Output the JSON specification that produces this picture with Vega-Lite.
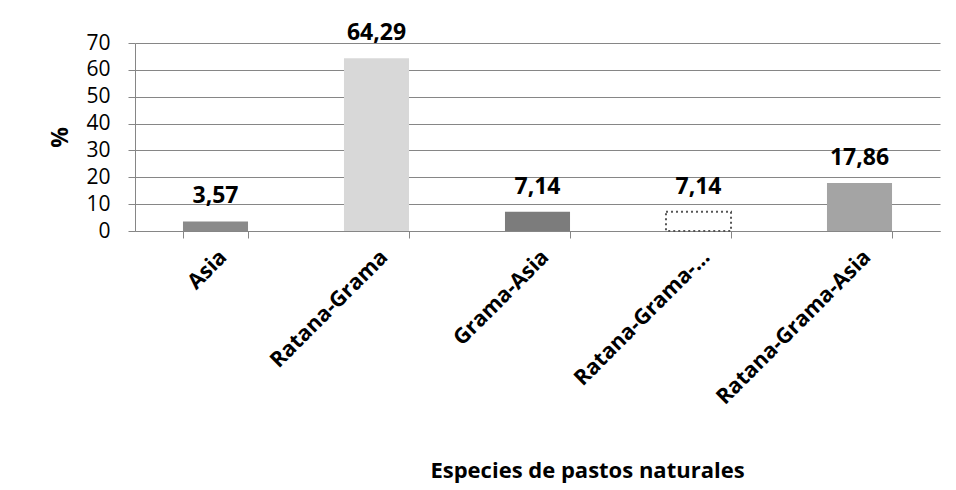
{
  "$schema": "https://vega.github.io/schema/vega-lite/v6.json",
  "width": 805,
  "height": 188,
  "autosize": {"type": "none"},
  "padding": {"left": 135, "top": 43, "right": 16, "bottom": 259},
  "background": "white",
  "config": {
    "locale": {"number": {"decimal": ",", "thousands": ".", "grouping": [3], "currency": ["", " €"]}},
    "view": {"stroke": null},
    "font": "Open Sans"
  },
  "data": {
    "values": [
      {"especie": "Asia", "pct": 3.57},
      {"especie": "Ratana-Grama", "pct": 64.29},
      {"especie": "Grama-Asia", "pct": 7.14},
      {"especie": "Ratana-Grama-…", "pct": 7.14},
      {"especie": "Ratana-Grama-Asia", "pct": 17.86}
    ]
  },
  "encoding": {
    "x": {
      "field": "especie",
      "type": "nominal",
      "sort": null,
      "scale": {"paddingInner": 0.596, "paddingOuter": 0.298},
      "axis": {
        "title": "Especies de pastos naturales",
        "labelAngle": -45,
        "labelFontSize": 21.5,
        "labelFontWeight": "bold",
        "labelColor": "black",
        "labelLimit": 0,
        "labelPadding": 8,
        "tickBand": "extent",
        "tickSize": 7,
        "tickColor": "#868686",
        "domainColor": "#868686",
        "grid": false,
        "titleFontSize": 22,
        "titleFontWeight": "bold",
        "titleColor": "black",
        "titleX": 452,
        "titleY": 246,
        "titleAlign": "center",
        "titleBaseline": "alphabetic"
      }
    },
    "y": {
      "field": "pct",
      "type": "quantitative",
      "scale": {"domain": [0, 70]},
      "axis": {
        "title": "%",
        "values": [0, 10, 20, 30, 40, 50, 60, 70],
        "grid": true,
        "gridColor": "#868686",
        "domainColor": "#868686",
        "tickColor": "#868686",
        "tickSize": 7,
        "labelFontSize": 21,
        "labelColor": "black",
        "labelPadding": 18,
        "titleAngle": -90,
        "titleX": -75,
        "titleY": 94,
        "titleFontSize": 23,
        "titleFontWeight": "bold",
        "titleColor": "black",
        "titleAlign": "center",
        "titleBaseline": "middle"
      }
    }
  },
  "layer": [
    {
      "mark": {"type": "bar", "strokeDash": [2, 3], "strokeWidth": 2},
      "encoding": {
        "color": {
          "field": "especie",
          "type": "nominal",
          "sort": null,
          "scale": {
            "domain": ["Asia", "Ratana-Grama", "Grama-Asia", "Ratana-Grama-…", "Ratana-Grama-Asia"],
            "range": ["#8a8a8a", "#d8d8d8", "#7c7c7c", "#ffffff", "#a4a4a4"]
          },
          "legend": null
        },
        "stroke": {
          "condition": {"test": "datum.especie === 'Ratana-Grama-…'", "value": "#555555"},
          "value": null
        }
      }
    },
    {
      "mark": {"type": "text", "baseline": "alphabetic", "dy": -18, "fontSize": 23, "fontWeight": "bold", "color": "black"},
      "encoding": {
        "text": {"field": "pct", "type": "quantitative", "format": ".2f"}
      }
    }
  ]
}
